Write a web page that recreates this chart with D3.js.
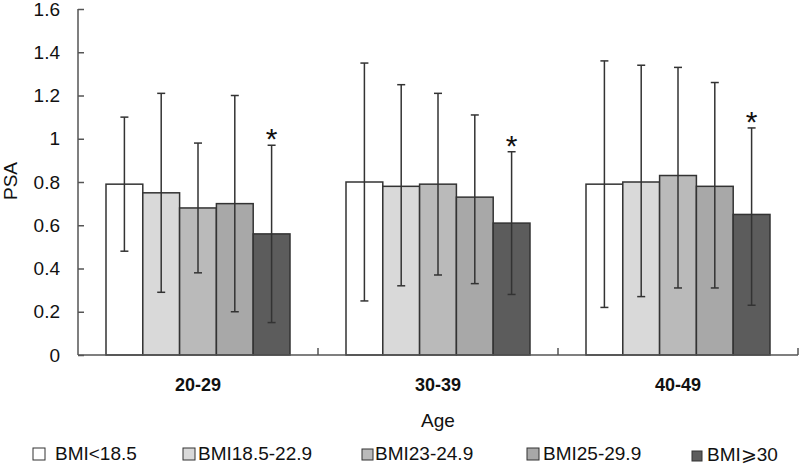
<!DOCTYPE html>
<html>
<meta charset="utf-8" />
<head>
<style>
body { margin: 0; background: #fff; }
svg { display: block; font-family: "Liberation Sans", Arial, sans-serif; }
.axis path, .axis line { stroke: #555; stroke-width: 1.5px; }
.axis text { font-size: 19px; fill: #111; }
</style>
<script src="https://cdn.jsdelivr.net/npm/d3@7"></script>
</head>
<body>
<svg class="chart" width="800" height="465"></svg>
<script>
var ageGroups = ["20-29", "30-39", "40-49"];
var bmiGroups = ["BMI<18.5", "BMI18.5-22.9", "BMI23-24.9", "BMI25-29.9", "BMI\u2a7e30"];

// mean PSA per age group, one array per BMI group
var means = [
  [0.79, 0.80, 0.79],
  [0.75, 0.78, 0.80],
  [0.68, 0.79, 0.83],
  [0.70, 0.73, 0.78],
  [0.56, 0.61, 0.65]
];
var errTop = [
  [1.10, 1.35, 1.36],
  [1.21, 1.25, 1.34],
  [0.98, 1.21, 1.33],
  [1.20, 1.11, 1.26],
  [0.97, 0.94, 1.05]
];
var errBottom = [
  [0.48, 0.25, 0.22],
  [0.29, 0.32, 0.27],
  [0.38, 0.37, 0.31],
  [0.20, 0.33, 0.31],
  [0.15, 0.28, 0.23]
];
var yTicks = [0, 0.2, 0.4, 0.6, 0.8, 1, 1.2, 1.4, 1.6];

var colors = ["#ffffff", "#d9d9d9", "#bababa", "#a8a8a8", "#5c5c5c"];

var svg = d3.select(".chart");
var mLeft = 78, mRight = 798, mTop = 9, mBottom = 355;

var y = d3.scaleLinear().domain([0, 1.6]).range([mBottom, mTop]);
var x0 = d3.scaleBand().domain(ageGroups).range([mLeft, mRight]);
var x1 = d3.scaleBand().domain(d3.range(bmiGroups.length))
    .range([28, x0.bandwidth() - 28]);

// bars
var rows = [];
ageGroups.forEach(function(a, i) {
  bmiGroups.forEach(function(b, j) {
    rows.push({ age: a, k: j, v: means[j][i], hi: errTop[j][i], lo: errBottom[j][i] });
  });
});

svg.selectAll("rect.bar").data(rows).enter().append("rect")
    .attr("class", "bar")
    .attr("x", function(d) { return x0(d.age) + x1(d.k); })
    .attr("width", x1.bandwidth())
    .attr("y", function(d) { return y(d.v); })
    .attr("height", function(d) { return y(0) - y(d.v); })
    .attr("fill", function(d) { return colors[d.k]; })
    .attr("stroke", "#333")
    .attr("stroke-width", 1.5);

// error bars
var eb = svg.selectAll("g.err").data(rows).enter().append("g")
    .attr("class", "err")
    .attr("transform", function(d) { return "translate(" + (x0(d.age) + x1(d.k) + x1.bandwidth() / 2) + ",0)"; })
    .attr("stroke", "#333").attr("stroke-width", 1.5);
eb.append("line").attr("y1", function(d) { return y(d.hi); }).attr("y2", function(d) { return y(d.lo); });
eb.append("line").attr("x1", -4).attr("x2", 4)
    .attr("y1", function(d) { return y(d.hi); }).attr("y2", function(d) { return y(d.hi); });
eb.append("line").attr("x1", -4).attr("x2", 4)
    .attr("y1", function(d) { return y(d.lo); }).attr("y2", function(d) { return y(d.lo); });

// asterisks over obese group
svg.selectAll("text.star").data(rows.filter(function(d) { return d.k === 4; })).enter().append("text")
    .attr("class", "star")
    .attr("x", function(d) { return x0(d.age) + x1(d.k) + x1.bandwidth() / 2; })
    .attr("y", function(d) { return y(d.hi) + 4; })
    .attr("text-anchor", "middle")
    .attr("font-size", 30)
    .attr("fill", "#111")
    .text("*");

// y axis, ticks pointing inward
var yAxis = d3.axisLeft(y).tickValues(yTicks).tickSize(-6).tickPadding(18)
    .tickFormat(function(d) { return d === 0 || d === 1 ? d3.format("d")(d) : d3.format(".1f")(d); });
var yg = svg.append("g").attr("class", "axis").attr("transform", "translate(" + mLeft + ",0)").call(yAxis);
yg.select(".domain").attr("d", "M0," + mTop + "V" + mBottom);

// x axis
var xg = svg.append("g").attr("class", "axis").attr("transform", "translate(0," + mBottom + ")");
xg.append("line").attr("x1", mLeft).attr("x2", mRight);
xg.selectAll("line.tk").data(ageGroups).enter().append("line")
    .attr("class", "tk")
    .attr("x1", function(d) { return x0(d) + x0.bandwidth(); })
    .attr("x2", function(d) { return x0(d) + x0.bandwidth(); })
    .attr("y1", 0).attr("y2", -7);
xg.selectAll("text").data(ageGroups).enter().append("text")
    .attr("x", function(d) { return x0(d) + x0.bandwidth() / 2; })
    .attr("y", 36)
    .attr("text-anchor", "middle")
    .attr("font-weight", "bold")
    .style("font-size", "18px")
    .text(function(d) { return d; });

// axis titles
svg.append("text").attr("x", 438).attr("y", 427).attr("text-anchor", "middle")
    .attr("font-size", 19).attr("fill", "#111").text("Age");
svg.append("text").attr("transform", "translate(17,181) rotate(-90)").attr("text-anchor", "middle")
    .attr("font-size", 19).attr("fill", "#111").text("PSA");

// legend
var legendBoxX = [33, 183, 362, 527, 692];
var legendTextX = [55, 198, 375, 543, 707];
var legendY = [460, 460, 460, 460, 461];
var legendBox = [12, 12, 11, 12, 10];
var lg = svg.selectAll("g.leg").data(bmiGroups).enter().append("g")
    .attr("class", "leg");
lg.append("rect")
    .attr("x", function(d, i) { return legendBoxX[i]; })
    .attr("y", function(d, i) { return legendY[i] - legendBox[i]; })
    .attr("width", function(d, i) { return legendBox[i]; })
    .attr("height", function(d, i) { return legendBox[i]; })
    .attr("fill", function(d, i) { return colors[i]; })
    .attr("stroke", "#333").attr("stroke-width", 1);
lg.append("text")
    .attr("x", function(d, i) { return legendTextX[i]; })
    .attr("y", function(d, i) { return legendY[i]; })
    .attr("font-size", 19).attr("fill", "#111")
    .text(function(d) { return d; });
</script>
</body>
</html>
